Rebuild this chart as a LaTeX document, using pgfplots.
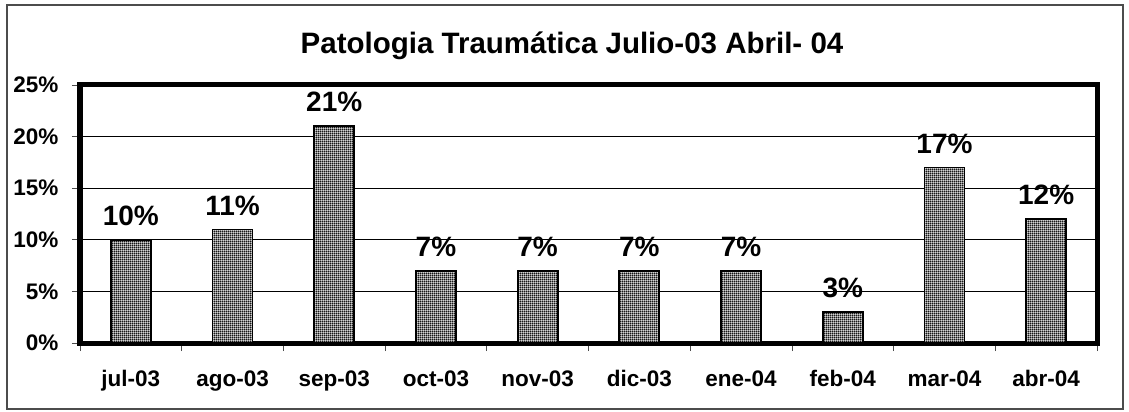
\documentclass[border=0pt]{standalone}
\usepackage{pgfplots}
\pgfplotsset{compat=1.18}
\usepackage{fontspec}
\setmainfont{Liberation Sans}
\usetikzlibrary{patterns}
\pgfdeclarepatternformonly{finegrid}{\pgfpointorigin}{\pgfqpoint{2.2pt}{2.2pt}}{\pgfqpoint{2.2pt}{2.2pt}}{%
  \pgfsetlinewidth{0.9pt}%
  \pgfpathmoveto{\pgfqpoint{0pt}{1.1pt}}\pgfpathlineto{\pgfqpoint{2.2pt}{1.1pt}}%
  \pgfpathmoveto{\pgfqpoint{1.1pt}{0pt}}\pgfpathlineto{\pgfqpoint{1.1pt}{2.2pt}}%
  \pgfusepath{stroke}}
\begin{document}
\begin{tikzpicture}
\useasboundingbox (0pt,0pt) rectangle (1129pt,412pt);
\draw[line width=1.5pt, black!70] (7pt,3pt) rectangle (1123pt,407pt);
\node[font=\fontsize{29.5}{34}\selectfont\bfseries, anchor=base] at (572pt,358pt) {Patologia Traumática Julio-03 Abril- 04};
\begin{axis}[
  at={(80pt,69pt)}, anchor=south west,
  scale only axis, width=1017pt, height=258pt,
  xmin=-0.5, xmax=9.5, ymin=0, ymax=25,
  xtick={0,...,9},
  xticklabels={jul-03,ago-03,sep-03,oct-03,nov-03,dic-03,ene-04,feb-04,mar-04,abr-04},
  major x tick style={draw=none},
  minor xtick={-0.5,0.5,...,9.5},
  minor tick length=8pt,
  minor x tick style={black!70, line width=0.8pt},
  ytick={0,5,...,25},
  yticklabels={0\%,5\%,10\%,15\%,20\%,25\%},
  major tick length=8pt,
  y tick style={black!70, line width=0.8pt},
  tick align=outside,
  xtick pos=bottom, ytick pos=left,
  ymajorgrids, grid style={black, line width=0.8pt},
  axis line style={line width=5pt},
  ticklabel style={font=\fontsize{22.5}{26}\selectfont\bfseries},
  xticklabel style={anchor=base, yshift=-35pt},
  yticklabel style={xshift=-10pt},
  /pgf/number format/assume math mode=true,
  ybar, bar width=40pt, bar shift=0pt,
]
\addplot[draw=none, fill=white]
coordinates {(0,10) (1,11) (2,21) (3,7) (4,7) (5,7) (6,7) (7,3) (8,17) (9,12)};
\addplot[draw=black, line width=1.8pt, pattern=finegrid, pattern color=black,
  nodes near coords={\pgfmathprintnumber{\pgfplotspointmeta}\%},
  nodes near coords style={font=\fontsize{28}{32}\selectfont\bfseries, yshift=10pt}]
coordinates {(0,10) (1,11) (2,21) (3,7) (4,7) (5,7) (6,7) (7,3) (8,17) (9,12)};
\end{axis}
\end{tikzpicture}
\end{document}
